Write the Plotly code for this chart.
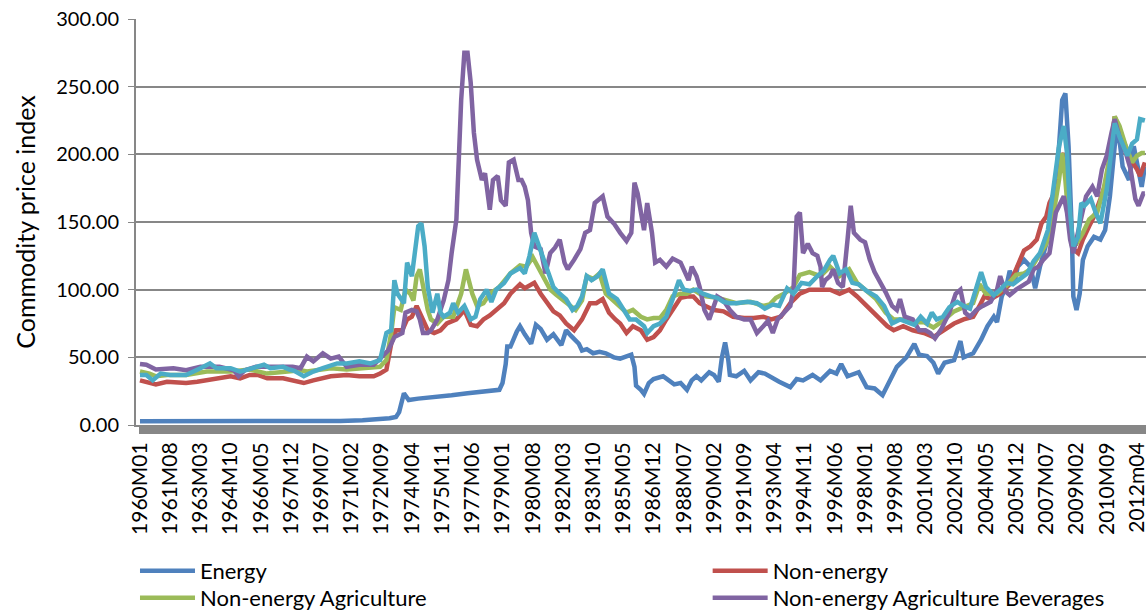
import plotly.graph_objects as go

# monthly commodity price indices at turning points
energy_months = ["1960M01", "1963M01", "1966M01", "1969M01", "1970M07", "1971M09", "1972M07", "1973M02",
                 "1973M06", "1973M08", "1973M11", "1974M02", "1974M08", "1975M07", "1976M05", "1977M03",
                 "1978M01", "1978M11", "1979M01", "1979M03", "1979M04", "1979M06", "1979M10", "1979M12",
                 "1980M03", "1980M07", "1980M10", "1981M01", "1981M05", "1981M09", "1982M02", "1982M05",
                 "1982M08", "1983M01", "1983M03", "1983M06", "1983M10", "1984M02", "1984M06", "1984M11",
                 "1985M03", "1985M07", "1985M10", "1985M12", "1986M01", "1986M04", "1986M06", "1986M09",
                 "1986M12", "1987M06", "1988M01", "1988M05", "1988M09", "1988M12", "1989M03", "1989M06",
                 "1989M11", "1990M02", "1990M05", "1990M07", "1990M09", "1990M11", "1990M12", "1991M04",
                 "1991M09", "1992M01", "1992M06", "1992M10", "1993M02", "1993M07", "1994M02", "1994M06",
                 "1994M10", "1995M04", "1995M09", "1996M03", "1996M07", "1996M10", "1997M02", "1997M09",
                 "1998M02", "1998M07", "1998M12", "1999M05", "1999M09", "2000M03", "2000M08", "2000M11",
                 "2001M04", "2001M08", "2001M11", "2002M03", "2002M09", "2003M01", "2003M03", "2003M09",
                 "2004M02", "2004M06", "2004M10", "2004M12", "2005M03", "2005M06", "2005M08", "2005M11",
                 "2006M01", "2006M05", "2006M09", "2006M12", "2007M03", "2007M07", "2007M11", "2008M03",
                 "2008M05", "2008M07", "2008M09", "2008M11", "2008M12", "2009M02", "2009M04", "2009M06",
                 "2009M09", "2010M01", "2010M05", "2010M08", "2010M11", "2011M02", "2011M04", "2011M07",
                 "2011M11", "2012M02", "2012M05", "2012M07", "2012M09"]
energy_values = [2.8, 2.7, 2.6, 2.6, 3.0, 3.5, 4.0, 5,
                 6, 9.5, 23.5, 18.5, 19.5, 20.5, 22, 23.5,
                 24.5, 26, 31, 45, 58, 58, 69, 73,
                 67, 60, 74, 71, 63, 67, 59, 70,
                 66, 60, 55, 56, 53, 54, 53, 50,
                 49, 51, 52, 43, 29, 26, 23, 31,
                 34, 36, 30, 31, 26, 33, 36, 33,
                 39, 37, 32, 50, 61, 48, 37, 36,
                 40, 33, 39, 38, 35, 32, 28, 34,
                 33, 37, 33, 40, 38, 45, 36, 39,
                 28, 27, 22, 33, 43, 50, 60, 52,
                 51, 46, 38, 46, 48, 62, 50, 53,
                 63, 73, 80, 76, 95, 103, 114, 105,
                 117, 122, 117, 101, 117, 134, 156, 206,
                 240, 245, 206, 144, 95, 85, 97, 122,
                 132, 139, 137, 144, 169, 206, 221, 191,
                 181, 206, 186, 176, 191]

nonenergy_months = ["1960M01", "1960M07", "1960M11", "1961M06", "1962M06", "1963M01", "1963M07", "1964M01",
                    "1964M10", "1965M04", "1965M10", "1966M03", "1966M09", "1967M07", "1968M06", "1968M08",
                    "1969M02", "1970M01", "1970M11", "1971M07", "1972M04", "1972M08", "1972M12", "1973M03",
                    "1973M06", "1973M10", "1974M01", "1974M04", "1974M07", "1974M09", "1974M11", "1975M02",
                    "1975M06", "1975M10", "1976M02", "1976M08", "1977M01", "1977M05", "1977M09", "1978M01",
                    "1978M05", "1978M09", "1979M02", "1979M06", "1979M09", "1979M12", "1980M03", "1980M06",
                    "1980M09", "1981M01", "1981M05", "1981M09", "1982M01", "1982M05", "1982M10", "1983M03",
                    "1983M08", "1983M12", "1984M04", "1984M08", "1984M12", "1985M03", "1985M07", "1985M11",
                    "1986M04", "1986M08", "1986M12", "1987M04", "1987M08", "1987M12", "1988M05", "1988M09",
                    "1989M01", "1989M05", "1989M09", "1990M02", "1990M08", "1991M02", "1991M09", "1992M03",
                    "1992M09", "1993M02", "1993M08", "1994M02", "1994M08", "1995M02", "1995M09", "1996M03",
                    "1996M09", "1997M03", "1997M08", "1998M02", "1998M08", "1999M03", "1999M07", "2000M01",
                    "2000M07", "2001M02", "2001M08", "2002M02", "2002M09", "2003M03", "2003M09", "2004M01",
                    "2004M04", "2004M08", "2005M02", "2005M08", "2006M01", "2006M05", "2006M09", "2007M01",
                    "2007M04", "2007M07", "2007M09", "2008M01", "2008M04", "2008M06", "2008M08", "2008M10",
                    "2008M12", "2009M03", "2009M06", "2009M10", "2010M01", "2010M05", "2010M09", "2010M12",
                    "2011M02", "2011M05", "2011M09", "2011M12", "2012M04", "2012M06", "2012M09"]
nonenergy_values = [33, 31, 30, 32, 31, 32, 33, 34.5,
                    36, 34.5, 37, 37, 34.5, 34.5, 32, 31,
                    33, 36, 37, 36, 36, 38, 41, 60,
                    70, 70, 78, 80, 88, 83, 78, 70,
                    68, 70, 75, 78, 85, 74, 73, 78,
                    81, 85, 90, 97, 101, 104, 101, 103,
                    105, 97, 90, 84, 81, 75, 70, 78,
                    90, 90, 93, 83, 78, 75, 68, 73,
                    70, 63, 65, 70, 78, 85, 94, 95,
                    95, 90, 88, 85, 84, 80, 79, 79,
                    80, 78, 80, 90, 97, 100, 100, 100,
                    97, 100, 95, 88, 80, 73, 70, 73,
                    70, 68, 65, 70, 75, 78, 80, 88,
                    95, 93, 97, 104, 117, 129, 132, 137,
                    149, 154, 164, 174, 194, 201, 181, 152,
                    130, 127, 137, 147, 154, 167, 181, 206,
                    228, 218, 206, 196, 189, 184, 194]

agri_months = ["1960M01", "1960M07", "1960M11", "1961M06", "1962M06", "1963M07", "1964M10", "1965M10",
               "1966M09", "1967M07", "1968M06", "1968M10", "1970M01", "1970M11", "1971M09", "1972M08",
               "1972M12", "1973M03", "1973M05", "1973M09", "1973M12", "1974M03", "1974M05", "1974M07",
               "1974M09", "1974M11", "1975M02", "1975M04", "1975M08", "1975M12", "1976M06", "1976M11",
               "1977M02", "1977M06", "1977M09", "1978M01", "1978M05", "1978M11", "1979M06", "1979M12",
               "1980M04", "1980M08", "1980M12", "1981M04", "1981M07", "1981M11", "1982M03", "1982M07",
               "1982M11", "1983M03", "1983M06", "1983M10", "1984M02", "1984M06", "1984M11", "1985M03",
               "1985M07", "1985M11", "1986M04", "1986M08", "1986M12", "1987M04", "1987M08", "1987M12",
               "1988M05", "1988M09", "1989M01", "1989M05", "1989M09", "1990M04", "1990M10", "1991M04",
               "1992M01", "1992M09", "1993M01", "1993M05", "1993M10", "1994M04", "1994M08", "1995M02",
               "1995M09", "1996M03", "1996M09", "1997M03", "1997M08", "1998M02", "1998M08", "1999M02",
               "1999M07", "2000M01", "2000M07", "2001M02", "2001M08", "2002M02", "2002M09", "2003M03",
               "2003M09", "2004M01", "2004M05", "2004M12", "2005M06", "2005M12", "2006M05", "2006M09",
               "2007M03", "2007M07", "2007M11", "2008M03", "2008M05", "2008M07", "2008M09", "2008M11",
               "2009M02", "2009M06", "2009M10", "2010M03", "2010M07", "2010M11", "2011M02", "2011M05",
               "2011M09", "2012M01", "2012M04", "2012M07", "2012M09"]
agri_values = [39.5, 38, 36, 37, 37, 39.5, 39.5, 41,
               38, 39.5, 40.5, 39.5, 42, 41, 42, 43,
               48, 68, 87, 85, 100, 97, 92, 110,
               115, 102, 85, 78, 75, 80, 80, 97,
               115, 97, 88, 90, 97, 102, 112, 118,
               117, 124, 115, 107, 100, 96, 92, 88,
               85, 92, 110, 108, 112, 97, 92, 88,
               83, 85, 80, 78, 79, 79, 85, 95,
               97, 97, 100, 97, 95, 94, 92, 90,
               91, 88, 89, 94, 97, 102, 111, 113,
               110, 117, 110, 115, 105, 99, 93, 83,
               78, 78, 76, 76, 72, 77, 84, 87,
               90, 104, 97, 97, 103, 111, 112, 115,
               127, 134, 152, 181, 201, 181, 152, 134,
               134, 142, 152, 157, 174, 199, 228, 221,
               206, 194, 199, 201, 201]

bev_months = ["1960M01", "1960M05", "1960M11", "1961M10", "1962M06", "1963M03", "1964M03", "1964M12",
              "1965M03", "1965M07", "1966M02", "1966M11", "1968M01", "1968M06", "1968M10", "1969M02",
              "1969M08", "1970M01", "1970M06", "1970M11", "1971M07", "1972M04", "1972M08", "1973M01",
              "1973M05", "1973M10", "1973M12", "1974M04", "1974M07", "1974M09", "1974M11", "1975M02",
              "1975M04", "1975M08", "1975M12", "1976M03", "1976M05", "1976M08", "1976M11", "1977M01",
              "1977M03", "1977M05", "1977M07", "1977M09", "1977M12", "1978M02", "1978M05", "1978M07",
              "1978M10", "1978M12", "1979M03", "1979M05", "1979M08", "1979M11", "1980M01", "1980M03",
              "1980M05", "1980M07", "1980M09", "1981M01", "1981M04", "1981M07", "1981M10", "1982M01",
              "1982M04", "1982M06", "1982M10", "1983M02", "1983M05", "1983M08", "1983M11", "1984M02",
              "1984M04", "1984M07", "1984M11", "1985M03", "1985M07", "1985M10", "1985M12", "1986M02",
              "1986M06", "1986M08", "1986M11", "1987M01", "1987M04", "1987M08", "1987M12", "1988M05",
              "1988M08", "1988M10", "1988M12", "1989M03", "1989M05", "1989M08", "1989M11", "1990M04",
              "1990M08", "1990M12", "1991M04", "1991M09", "1992M01", "1992M05", "1992M09", "1992M12",
              "1993M03", "1993M06", "1993M10", "1994M02", "1994M04", "1994M06", "1994M08", "1994M10",
              "1995M01", "1995M04", "1995M07", "1995M09", "1995M10", "1995M12", "1996M03", "1996M05",
              "1996M08", "1996M11", "1997M02", "1997M04", "1997M06", "1997M10", "1998M01", "1998M04",
              "1998M07", "1998M10", "1999M02", "1999M06", "1999M09", "1999M11", "2000M02", "2000M07",
              "2000M11", "2001M03", "2001M06", "2001M09", "2002M01", "2002M06", "2002M10", "2003M01",
              "2003M04", "2003M07", "2003M11", "2004M03", "2004M08", "2004M12", "2005M02", "2005M05",
              "2005M08", "2005M12", "2006M05", "2006M08", "2006M11", "2007M02", "2007M05", "2007M09",
              "2008M01", "2008M04", "2008M06", "2008M08", "2008M10", "2008M12", "2009M03", "2009M06",
              "2009M08", "2009M12", "2010M03", "2010M06", "2010M09", "2010M12", "2011M02", "2011M05",
              "2011M09", "2011M12", "2012M03", "2012M05", "2012M08", "2012M09"]
bev_values = [45, 44.5, 41, 42, 40.5, 43, 43, 40.5,
              36, 40.5, 43, 43, 43, 42, 50.5, 47,
              53, 49, 50.5, 43, 44.5, 44.5, 49, 55,
              65, 68, 83, 85, 84, 78, 68, 68,
              70, 78, 92, 107, 127, 152, 240, 275,
              275, 253, 216, 196, 181, 186, 159, 181,
              184, 166, 162, 194, 196, 181, 181, 176,
              166, 142, 132, 130, 112, 127, 131, 137,
              120, 115, 122, 130, 142, 144, 164, 167,
              169, 154, 149, 142, 136, 142, 179, 171,
              144, 164, 142, 120, 122, 117, 123, 120,
              112, 107, 117, 110, 102, 85, 78, 95,
              92, 85, 80, 78, 78, 68, 73, 77,
              68, 78, 83, 88, 100, 154, 157, 127,
              134, 127, 125, 117, 102, 107, 110, 115,
              105, 102, 137, 162, 142, 137, 135, 122,
              113, 107, 98, 88, 85, 93, 80, 78,
              70, 70, 68, 64, 71, 83, 97, 100,
              83, 80, 85, 88, 91, 100, 110, 99,
              96, 100, 104, 106, 115, 117, 122, 127,
              157, 164, 169, 157, 137, 127, 142, 157,
              169, 176, 169, 189, 199, 216, 226, 213,
              201, 189, 167, 162, 171, 171]

food_months = ["1960M01", "1960M05", "1960M09", "1961M02", "1961M08", "1962M06", "1963M03", "1963M09",
               "1964M01", "1964M10", "1965M04", "1965M12", "1966M07", "1966M11", "1967M07", "1967M11",
               "1968M02", "1968M08", "1969M02", "1969M08", "1970M05", "1970M11", "1971M07", "1972M02",
               "1972M08", "1972M12", "1973M03", "1973M05", "1973M07", "1973M11", "1974M01", "1974M04",
               "1974M06", "1974M08", "1974M10", "1974M12", "1975M02", "1975M05", "1975M08", "1975M10",
               "1975M12", "1976M04", "1976M06", "1976M09", "1977M01", "1977M05", "1977M08", "1977M11",
               "1978M03", "1978M06", "1978M09", "1979M02", "1979M06", "1979M12", "1980M03", "1980M06",
               "1980M09", "1981M01", "1981M05", "1981M09", "1982M01", "1982M05", "1982M09", "1982M12",
               "1983M03", "1983M06", "1983M09", "1984M01", "1984M04", "1984M08", "1985M01", "1985M05",
               "1985M09", "1986M01", "1986M06", "1986M08", "1986M12", "1987M04", "1987M08", "1987M12",
               "1988M04", "1988M07", "1988M11", "1989M03", "1989M07", "1989M12", "1990M04", "1990M08",
               "1990M12", "1991M04", "1991M11", "1992M05", "1992M10", "1993M03", "1993M07", "1993M12",
               "1994M04", "1994M09", "1995M02", "1995M07", "1995M11", "1996M03", "1996M05", "1996M09",
               "1997M01", "1997M05", "1997M09", "1998M02", "1998M08", "1999M01", "1999M06", "1999M11",
               "2000M04", "2000M08", "2000M12", "2001M04", "2001M07", "2001M10", "2002M02", "2002M06",
               "2002M11", "2003M03", "2003M07", "2003M11", "2004M02", "2004M05", "2004M10", "2005M02",
               "2005M06", "2005M10", "2006M02", "2006M07", "2006M11", "2007M03", "2007M08", "2007M11",
               "2008M03", "2008M06", "2008M08", "2008M10", "2008M12", "2009M03", "2009M05", "2009M07",
               "2009M11", "2010M02", "2010M05", "2010M09", "2010M12", "2011M02", "2011M05", "2011M10",
               "2012M01", "2012M04", "2012M06", "2012M09"]
food_values = [37, 37, 33, 38, 37, 37, 42, 45.5,
               42, 42, 39.5, 42, 44.5, 42, 43, 41,
               40, 36, 39.5, 42, 45.5, 45.5, 47, 45.5,
               48, 68, 70, 107, 97, 90, 120, 110,
               130, 147, 149, 132, 102, 83, 97, 83,
               80, 83, 90, 83, 88, 78, 80, 93,
               100, 91, 100, 105, 112, 116, 112, 125,
               142, 129, 115, 102, 97, 93, 85, 88,
               95, 110, 107, 110, 115, 97, 93, 85,
               78, 78, 73, 68, 73, 75, 80, 93,
               107, 100, 99, 100, 97, 95, 94, 91,
               90, 90, 91, 90, 86, 89, 88, 101,
               97, 105, 104, 110, 114, 122, 125, 112,
               115, 105, 104, 99, 95, 88, 75, 78,
               76, 74, 80, 75, 83, 78, 80, 87,
               91, 88, 86, 100, 113, 102, 96, 100,
               105, 104, 108, 112, 121, 127, 144, 169,
               206, 221, 201, 157, 132, 139, 164, 162,
               167, 157, 149, 174, 206, 223, 213, 199,
               208, 211, 226, 225]

tick_labels = ["1960M01", "1961M08", "1963M03", "1964M10", "1966M05", "1967M12", "1969M07", "1971M02",
               "1972M09", "1974M04", "1975M11", "1977M06", "1979M01", "1980M08", "1982M03", "1983M10",
               "1985M05", "1986M12", "1988M07", "1990M02", "1991M09", "1993M04", "1994M11", "1996M06",
               "1998M01", "1999M08", "2001M03", "2002M10", "2004M05", "2005M12", "2007M07", "2009M02",
               "2010M09", "2012m04"]

n_months = 633  # 1960M01 .. 2012M09


def month_index(label):
    year, month = label.upper().split("M")
    return (int(year) - 1960) * 12 + int(month) - 1


# name, months, values, colour, legend box (None = not in legend)
series = [
    ("Energy", energy_months, energy_values, "#4F81BD", "legend"),
    ("Non-energy", nonenergy_months, nonenergy_values, "#C0504D", "legend2"),
    ("Non-energy Agriculture", agri_months, agri_values, "#9BBB59", "legend3"),
    ("Non-energy Agriculture Beverages", bev_months, bev_values, "#8064A2", "legend4"),
    ("Non-energy Agriculture Food", food_months, food_values, "#4BACC6", None),
]

fig = go.Figure()
for name, months, values, color, leg in series:
    assert len(months) == len(values), name
    fig.add_trace(go.Scatter(
        x=[month_index(m) for m in months], y=values, name=name, mode="lines",
        line=dict(color=color, width=4.5),
        legend=leg or "legend", showlegend=leg is not None))

tick_at = {month_index(t): t for t in tick_labels}
grey = "#878787"
family = "Lato, 'Open Sans', sans-serif"
font = dict(family=family, size=20, color="black")
legend_font = dict(family=family, size=22, color="black")


def legend_box(x, y):
    return dict(x=x, y=y, xanchor="left", yanchor="top", orientation="v",
                font=legend_font, itemwidth=55, bgcolor="rgba(0,0,0,0)")


fig.update_layout(
    width=1147, height=614,
    margin=dict(l=136, r=1, t=19, b=189, autoexpand=False),
    plot_bgcolor="white", paper_bgcolor="white",
    font=font,
    legend=legend_box(-0.001, -0.308),
    legend2=legend_box(0.566, -0.308),
    legend3=legend_box(-0.001, -0.374),
    legend4=legend_box(0.566, -0.374),
)
fig.update_xaxes(
    range=[-2.5, 632.7], tickmode="array",
    tickvals=list(range(n_months)), ticktext=[tick_at.get(i, "") for i in range(n_months)],
    tickangle=-90, ticks="outside", ticklen=7, tickwidth=2, tickcolor=grey,
    showline=True, linecolor=grey, linewidth=2, showgrid=False, zeroline=False,
    tickfont=dict(family=family, size=21, color="black"), ticklabeloverflow="allow",
    automargin=False,
)
fig.update_yaxes(
    range=[0, 300], tickvals=[0, 50, 100, 150, 200, 250, 300], tickformat=".2f",
    showgrid=True, gridcolor=grey, gridwidth=1.5,
    showline=True, linecolor=grey, linewidth=2, zeroline=False,
    ticks="outside", ticklen=6, tickcolor=grey, tickfont=font, ticklabelstandoff=5,
    title=dict(text="Commodity price index", font=dict(family=family, size=25, color="black"),
               standoff=14),
    automargin=False,
)

fig.write_html("out.html", config={"displayModeBar": False},
               post_script="document.body.style.margin='0';document.body.style.overflow='hidden';")
